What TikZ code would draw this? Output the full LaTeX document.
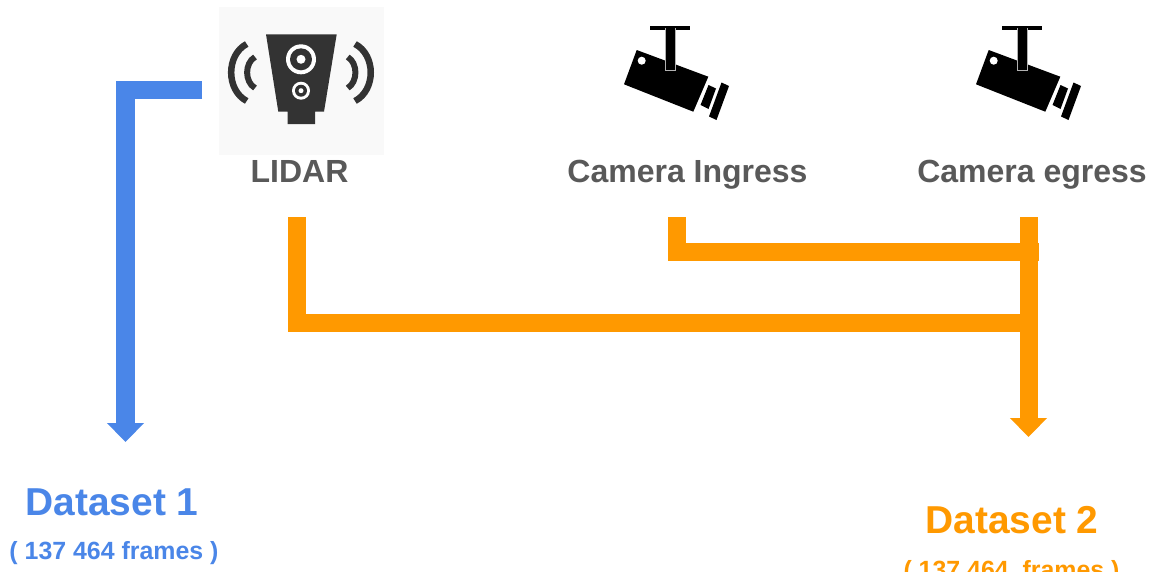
\documentclass[tikz,border=0pt]{standalone}
\usepackage{fontspec}
\setmainfont{Liberation Sans}
\usetikzlibrary{arrows.meta}
\definecolor{dsblue}{HTML}{4A86E8}
\definecolor{dsorange}{HTML}{FF9900}
\definecolor{labelgray}{HTML}{595959}
\definecolor{icondark}{HTML}{333333}
\definecolor{iconbg}{HTML}{F9F9F9}
\tikzset{
  linkblue/.style={draw=dsblue,line width=18.5pt,line join=miter},
  linkorange/.style={draw=dsorange,line width=18pt,line join=miter},
  headblue/.style={-{Triangle[length=19pt,width=36pt,fill=dsblue]}},
  headorange/.style={-{Triangle[length=19pt,width=36pt,fill=dsorange]}},
  devlabel/.style={anchor=base,inner sep=0pt,text=labelgray,font=\fontsize{32}{36}\selectfont\bfseries},
  dstitle/.style={anchor=base,inner sep=0pt,font=\fontsize{38.9}{42}\selectfont\bfseries},
  dssub/.style={anchor=base,inner sep=0pt,font=\fontsize{24.9}{30}\selectfont\bfseries},
  wave/.style={draw=icondark,line cap=butt},
}
\newcommand{\cameraicon}[1]{%
  \begin{scope}[xshift=#1]
    \fill[black] (650,25.5) rectangle (690,30);
    \fill[black] (636.7,50) -- (708.3,76.7) -- (693.3,111.7) -- (624,84.3) -- cycle;
    \fill[black] (708.5,85) -- (716,88.5) -- (708.5,109) -- (700.5,105) -- cycle;
    \fill[black] (721.5,82.5) -- (729,86) -- (716.5,120) -- (709,116.5) -- cycle;
    \fill[white] (641.7,60.7) circle (4);
    \fill[white!70!black] (665,28) rectangle (676,71);
    \fill[black] (666,28) rectangle (675,70);
  \end{scope}}
\begin{document}
\begin{tikzpicture}[x=1pt,y=-1pt]
  \useasboundingbox (0,0) rectangle (1150,571);
  \clip (0,0) rectangle (1150,571);
  \fill[white] (0,0) rectangle (1150,571);

  % LIDAR icon
  \fill[iconbg] (219,7) rectangle (384,155);
  \fill[icondark] (266,34.3) -- (336.7,34.3) -- (324,111.7) -- (315,111.7) -- (315,124) -- (287.7,124) -- (287.7,111.7) -- (278.3,111.7) -- cycle;
  \fill[white] (301,59.3) circle (15);
  \fill[icondark] (301,59.3) circle (11);
  \fill[white] (301,59.3) circle (4.5);
  \fill[white] (301,90.7) circle (9);
  \fill[icondark] (301,90.7) circle (6);
  \fill[white] (301,90.7) circle (2.5);
  \draw[wave,line width=6.5pt] (246.7,44) .. controls (226,55) and (226,90) .. (246.7,101);
  \draw[wave,line width=6pt] (255,57) .. controls (244.5,63) and (244.5,82) .. (255,88);
  \draw[wave,line width=6.5pt] (355,44) .. controls (376,55) and (376,90) .. (355,101);
  \draw[wave,line width=6pt] (347.7,57) .. controls (358,63) and (358,82) .. (347.7,88);

  % Camera icons
  \cameraicon{0pt}
  \cameraicon{352pt}

  % Labels
  \node[devlabel] (lidar) at (299.5,182) {LIDAR};
  \node[devlabel] (ingress) at (687.5,182) {Camera Ingress};
  \node[devlabel] (egress) at (1032,182) {Camera egress};
  \node[dstitle,text=dsblue] (d1) at (112,515) {Dataset 1};
  \node[dssub,text=dsblue] (d1sub) at (114,559) {( 137 464 frames )};
  \node[dstitle,text=dsorange] (d2) at (1012,533.5) {Dataset 2};
  \node[dssub,text=dsorange] (d2sub) at (1011.5,578) {( 137 464\hspace{0.28em} frames )};

  % Connector ends
  \coordinate (lidarout) at (202,90);
  \coordinate (d1in) at (125.5,442);
  \coordinate (lidardown) at (296.5,217);
  \coordinate (ingressdown) at (676.5,217);
  \coordinate (egressdown) at (1028.5,217);
  \coordinate (joinlow) at (1028.5,322.5);
  \coordinate (joinhigh) at (1038.5,251.5);
  \coordinate (d2in) at (1028.5,437);

  % Connectors
  \draw[linkblue,headblue] (lidarout) -| (d1in);
  \draw[linkorange] (lidardown) |- (joinlow);
  \draw[linkorange] (ingressdown) |- (joinhigh);
  \draw[linkorange,headorange] (egressdown) -- (d2in);
\end{tikzpicture}
\end{document}
